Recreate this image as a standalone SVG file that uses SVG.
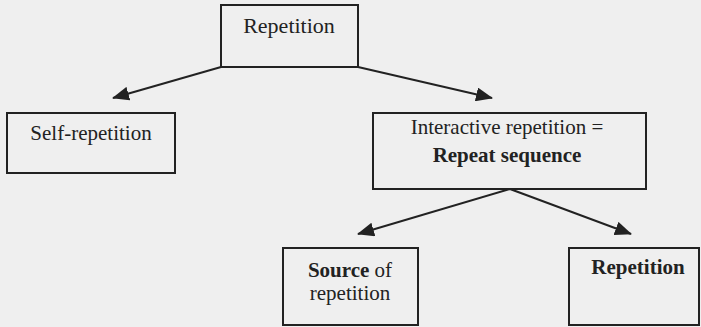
<svg xmlns="http://www.w3.org/2000/svg" width="701" height="327" viewBox="0 0 701 327">
  <style>
    .box { fill: none; stroke: #222; stroke-width: 2; }
    .edge { fill: none; stroke: #222; stroke-width: 2; }
    text { font-family: "Liberation Serif", "Times New Roman", serif; fill: #222; font-size: 21px; text-anchor: middle; }
    .b { font-weight: bold; }
  </style>
  <defs>
    <marker id="arrow" markerUnits="userSpaceOnUse" markerWidth="18" markerHeight="14" refX="16" refY="7" orient="auto">
      <path d="M0,0 L17,7 L0,14 Z" fill="#222"/>
    </marker>
  </defs>
  <rect x="0" y="0" width="701" height="327" fill="#efefef"/>

  <g id="connectors">
    <line class="edge" x1="221" y1="67" x2="113" y2="98" marker-end="url(#arrow)"/>
    <line class="edge" x1="358" y1="67" x2="492" y2="98" marker-end="url(#arrow)"/>
    <line class="edge" x1="510" y1="189" x2="358" y2="234" marker-end="url(#arrow)"/>
    <line class="edge" x1="510" y1="189" x2="631" y2="234" marker-end="url(#arrow)"/>
  </g>

  <g id="n-repetition">
    <rect class="box" x="221" y="5" width="137" height="62"/>
    <text x="289" y="33" style="font-size:22px">Repetition</text>
  </g>

  <g id="n-self">
    <rect class="box" x="7" y="113" width="168" height="60"/>
    <text x="91" y="140">Self-repetition</text>
  </g>

  <g id="n-interactive">
    <rect class="box" x="373" y="113" width="273" height="76"/>
    <text x="507" y="134">Interactive repetition =</text>
    <text x="507" y="162" class="b">Repeat sequence</text>
  </g>

  <g id="n-source">
    <rect class="box" x="283" y="248" width="135" height="77"/>
    <text x="350" y="277"><tspan class="b">Source</tspan> of</text>
    <text x="350" y="300">repetition</text>
  </g>

  <g id="n-rep2">
    <rect class="box" x="569" y="248" width="130" height="77"/>
    <text x="638" y="274" class="b">Repetition</text>
  </g>
</svg>
